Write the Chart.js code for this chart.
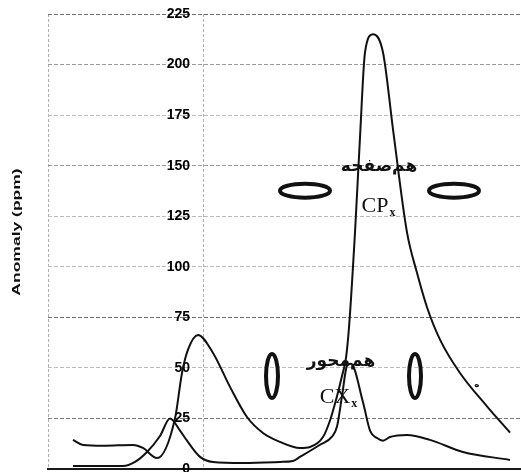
<!DOCTYPE html>
<html>
<head>
<meta charset="utf-8">
<script src="https://cdn.jsdelivr.net/npm/chart.js@4.4.0/dist/chart.umd.min.js"></script>
<style>
  html, body { margin: 0; padding: 0; background: #fff; }
  #wrap { width: 521px; height: 472px; }
</style>
</head>
<body>
<div id="wrap"><canvas id="anomaly_chart"></canvas></div>
<script>
// profile A (coplanar, big peak) - offset along profile / anomaly (ppm)
const offsetA = [-130, -120, -100, -70, -60, -46, -28, -21, -15, -5, 10, 27, 44, 60, 77, 97, 107, 120, 127, 134, 139, 143, 146, 152, 157, 162, 170, 180, 190, 204, 214, 224, 237, 257, 284, 307];
const anomalyA = [14.4, 11.9, 11.5, 11.9, 10.4, 5.4, 25, 47.5, 59, 66.3, 57.4, 40.6, 25.7, 17.8, 13.4, 10.4, 10.9, 15.8, 24, 36, 46, 55, 70, 117, 164, 206, 215, 206, 168, 117, 97, 80, 64, 47.5, 31, 18];

// profile B (coaxial)
const offsetB = [-130, -80, -68, -56, -43, -33, -23, -16, -3, 10, 40, 77, 90, 97, 117, 129, 134, 139, 144, 148, 160, 167, 174, 180, 187, 204, 227, 260, 307];
const anomalyB = [1.5, 1.5, 3.5, 8.4, 16.3, 25, 19, 14, 6, 3.5, 3, 3.5, 4, 6, 12, 16, 21, 36, 51, 52, 33, 19, 15.3, 14, 15.8, 16.8, 14.4, 8.4, 4.5];

const yTicks = [0, 25, 50, 75, 100, 125, 150, 175, 200, 225];
const xRange = [-155, 318];
const yAxisAt = -13;

// hand-drawn marks on the scan, placed in data units
const ovals = [
    { x: 102, y: 137.6, rx: 25, ry: 7 },
    { x: 251, y: 137.6, rx: 25, ry: 7 },
    { x: 69, y: 46, rx: 6, ry: 22 },
    { x: 212, y: 46, rx: 6, ry: 22 }
];
const notes = [
    { x: 176, y: 149.5, text: 'هم‌صفحه', sub: '' },
    { x: 172, y: 130, text: 'CP', sub: 'x' },
    { x: 138, y: 53, text: 'هم‌محور', sub: '' },
    { x: 132, y: 35.5, text: 'CX', sub: 'x' },
    { x: 274, y: 41.6, text: 'ه', sub: '' }
];

function gridTone(v) {
    if (v === 75 || v === 225) return '#6e6e6e';
    if (v === 25) return '#7a7a7a';
    if (v === 200 || v === 150) return '#9a9a9a';
    return '#bdbdbd';
}

const sketchMarks = {
    id: 'sketchMarks',
    afterDatasetsDraw(chart) {
        const { ctx, scales: { x, y } } = chart;
        ctx.save();
        ctx.strokeStyle = '#111';
        ctx.fillStyle = '#111';
        ctx.lineWidth = 4;
        ovals.forEach(o => {
            ctx.beginPath();
            ctx.ellipse(x.getPixelForValue(o.x), y.getPixelForValue(o.y), o.rx, o.ry, 0, 0, Math.PI * 2);
            ctx.stroke();
        });
        ctx.textAlign = 'center';
        ctx.textBaseline = 'middle';
        notes.forEach(n => {
            const px = x.getPixelForValue(n.x);
            const py = y.getPixelForValue(n.y);
            if (n.sub) {
                ctx.font = '22px "Liberation Serif"';
                ctx.fillText(n.text, px, py);
                const w = ctx.measureText(n.text).width;
                ctx.font = 'bold 12px "Liberation Serif"';
                ctx.fillText(n.sub, px + w / 2 + 4, py + 7);
            } else if (n.text.length === 1) {
                ctx.font = 'bold 9px "DejaVu Sans"';
                ctx.fillText(n.text, px, py);
            } else {
                ctx.font = 'bold 17px "DejaVu Sans"';
                ctx.fillText(n.text, px, py);
            }
        });
        ctx.restore();

        // axis title, stretched like the scan
        ctx.save();
        ctx.translate(17, 232);
        ctx.rotate(-Math.PI / 2);
        ctx.scale(1.75, 1);
        ctx.font = 'bold 10px "Liberation Sans"';
        ctx.fillStyle = '#111';
        ctx.textAlign = 'center';
        ctx.textBaseline = 'middle';
        ctx.fillText('Anomaly (ppm)', 0, 0);
        ctx.restore();
    }
};

(function anomaly_chart()
{
    const sample = document.getElementById('anomaly_chart');
    const myChart = new Chart(sample, {
        type: 'line',
        data: {
            datasets: [{
                label: 'CP',
                data: offsetA.map((d, i) => ({ x: d, y: anomalyA[i] })),
                borderColor: '#111',
                borderWidth: 2,
                pointRadius: 0,
                cubicInterpolationMode: 'monotone'
            }, {
                label: 'CX',
                data: offsetB.map((d, i) => ({ x: d, y: anomalyB[i] })),
                borderColor: '#111',
                borderWidth: 2,
                pointRadius: 0,
                cubicInterpolationMode: 'monotone'
            }]
        },
        options: {
            responsive: true,
            maintainAspectRatio: false,
            animation: false,
            layout: { padding: { left: 48, top: 14, right: 0, bottom: 3 } },
            plugins: {
                legend: { display: false },
                tooltip: { enabled: false }
            },
            scales: {
                x: {
                    type: 'linear',
                    min: xRange[0],
                    max: xRange[1],
                    afterBuildTicks: s => { s.ticks = [{ value: xRange[0] }, { value: 0 }]; },
                    grid: { color: '#b0b0b0', drawTicks: false },
                    border: { display: true, color: '#1a1a1a', width: 2, dash: [3, 2] },
                    ticks: { display: false }
                },
                y: {
                    min: 0,
                    max: 225,
                    position: { x: yAxisAt },
                    afterBuildTicks: s => { s.ticks = yTicks.map(v => ({ value: v })); },
                    afterFit: s => { s.paddingTop = 0; s.paddingBottom = 0; },
                    grid: {
                        color: ctx => gridTone(ctx.tick.value),
                        tickColor: ctx => gridTone(ctx.tick.value),
                        tickLength: 8
                    },
                    border: { display: true, color: 'rgba(0,0,0,0)', width: 1, dash: [4, 2] },
                    ticks: {
                        color: '#000',
                        padding: 5,
                        font: { family: '"Liberation Sans"', size: 14, weight: 'bold' }
                    }
                }
            }
        },
        plugins: [sketchMarks]
    });
})();
</script>
</body>
</html>
